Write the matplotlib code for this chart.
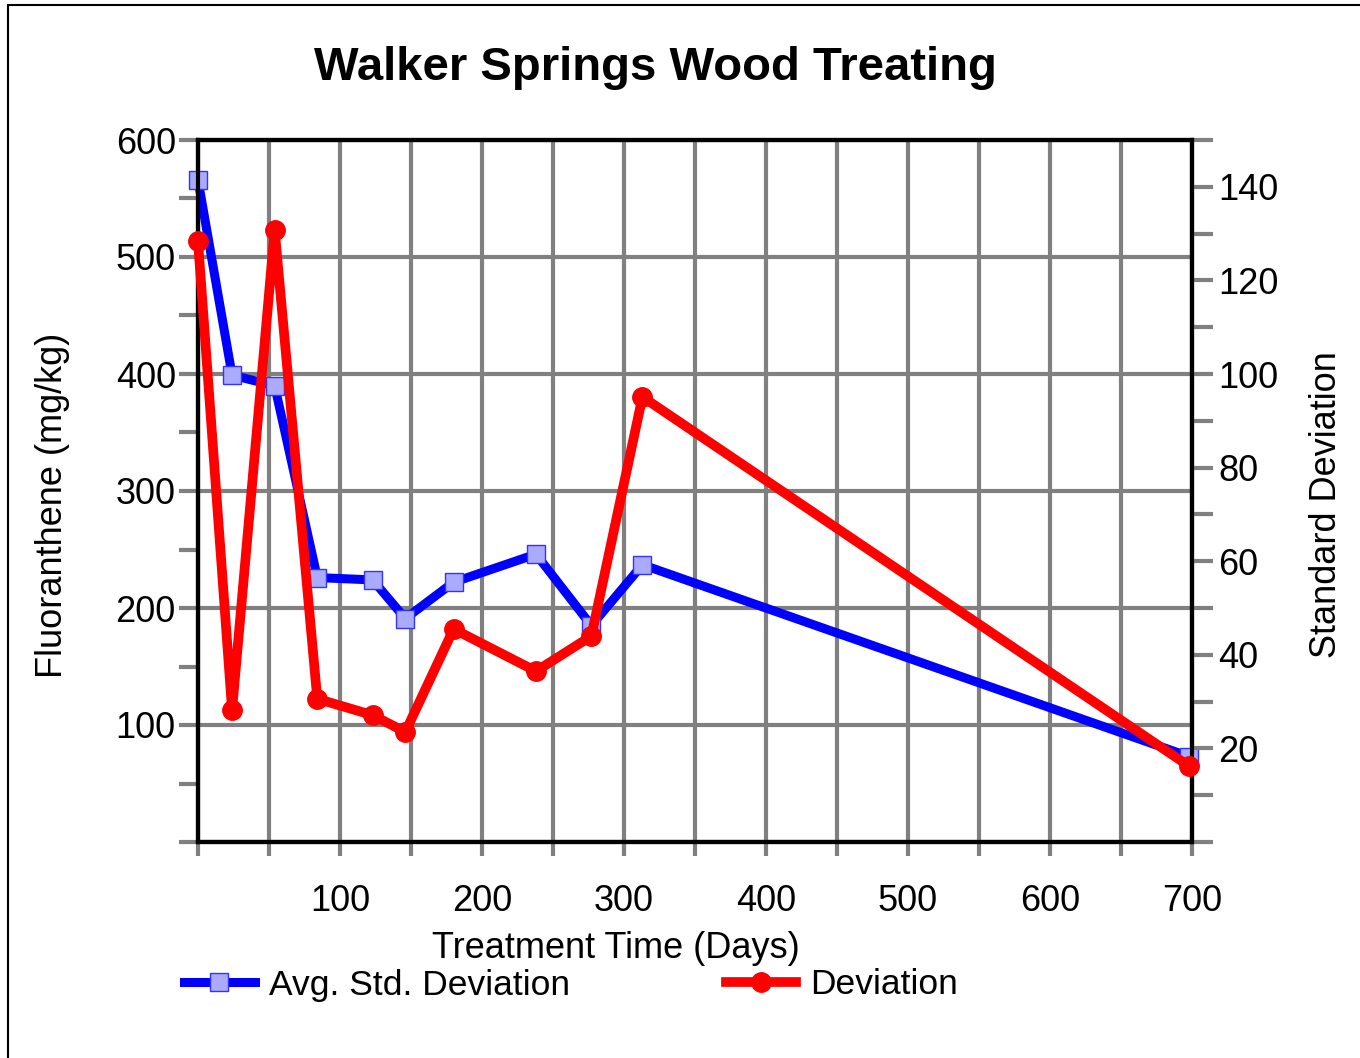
import matplotlib
matplotlib.use('Agg')
import matplotlib.pyplot as plt
from matplotlib.patches import Rectangle
from matplotlib.ticker import MultipleLocator

plt.rcParams['font.family'] = ['Liberation Sans', 'DejaVu Sans']

# treatment days
days = [0, 24, 54, 84, 123, 146, 180, 238, 277, 313, 698]
# blue series, left axis (mg/kg)
avg_std = [566, 399, 390, 226, 224, 191, 222, 246, 185, 237, 73]
# red series, right axis (standard deviation)
deviation = [128.4, 28.2, 130.8, 30.6, 27.1, 23.5, 45.5, 36.5, 44.0, 95.1, 16.2]

x_ticks = [0, 100, 200, 300, 400, 500, 600, 700]
x_labels = ['', '100', '200', '300', '400', '500', '600', '700']
left_ticks = [0, 100, 200, 300, 400, 500, 600]
left_labels = ['', '100', '200', '300', '400', '500', '600']
right_ticks = [20, 40, 60, 80, 100, 120, 140]

GRAY = '#808080'
W, H = 1360, 1058

fig = plt.figure(figsize=(W / 100, H / 100), dpi=100)
ax = fig.add_axes([198/W, 1-842/H, (1192-198)/W, (842-140)/H])
ax2 = ax.twinx()

ax.set_xlim(0, 700)
ax.set_ylim(0, 600)
ax2.set_ylim(0, 150)

ax.set_xticks(x_ticks)
ax.set_xticklabels(x_labels)
ax.xaxis.set_minor_locator(MultipleLocator(50))
ax.set_yticks(left_ticks)
ax.set_yticklabels(left_labels)
ax.yaxis.set_minor_locator(MultipleLocator(50))
ax2.set_yticks(right_ticks)
ax2.yaxis.set_minor_locator(MultipleLocator(10))

ax.grid(which='both', axis='x', color=GRAY, linewidth=3)
ax.grid(which='major', axis='y', color=GRAY, linewidth=3)
ax.set_axisbelow(True)

ax.tick_params(axis='y', which='both', length=14, width=3, color=GRAY,
               labelsize=26, pad=2)
ax.tick_params(axis='x', which='both', length=10, width=3, color=GRAY,
               labelsize=26, pad=20)
ax2.tick_params(axis='y', which='both', length=15, width=3, color=GRAY,
                labelsize=26, pad=4)

for a in (ax, ax2):
    for s in a.spines.values():
        s.set_linewidth(3)
        s.set_color('black')

ln1, = ax.plot(days, avg_std, color='#0000ff', linewidth=6.5, marker='s',
               markersize=13, markerfacecolor='#aaaaff', markeredgecolor='#3333ff',
               markeredgewidth=1, zorder=3, clip_on=False, label='Avg. Std. Deviation')
ln2, = ax2.plot(days, deviation, color='#ff0000', linewidth=7, marker='o',
                markersize=14, markerfacecolor='#ff0000', markeredgecolor='#ff0000',
                zorder=4, clip_on=False, label='Deviation')

# axis titles
fig.text(52/W, 1-505/H, 'Fluoranthene (mg/kg)', fontsize=26, rotation=90,
         ha='center', va='center')
fig.text(1327/W, 1-505/H, 'Standard Deviation', fontsize=26, rotation=90,
         ha='center', va='center')
fig.text(616/W, 1-948/H, 'Treatment Time (Days)', fontsize=26,
         ha='center', va='center')

fig.text(655/W, 1-68/H, 'Walker Springs Wood Treating', fontsize=34,
         fontweight='bold', ha='center', va='center')

fig.legend(handles=[ln1, ln2], loc='center', ncol=2, frameon=False,
           bbox_to_anchor=(571/W, 1-985/H), fontsize=25.5,
           handlelength=2.0, columnspacing=4.4, handletextpad=0.4, numpoints=1)

# outer frame
fig.patches.append(Rectangle((8/W, -0.02), 1.1, 1.02 - 5/H, transform=fig.transFigure,
                             fill=False, edgecolor='black', linewidth=1.5))

fig.savefig('out.png', dpi=100)
